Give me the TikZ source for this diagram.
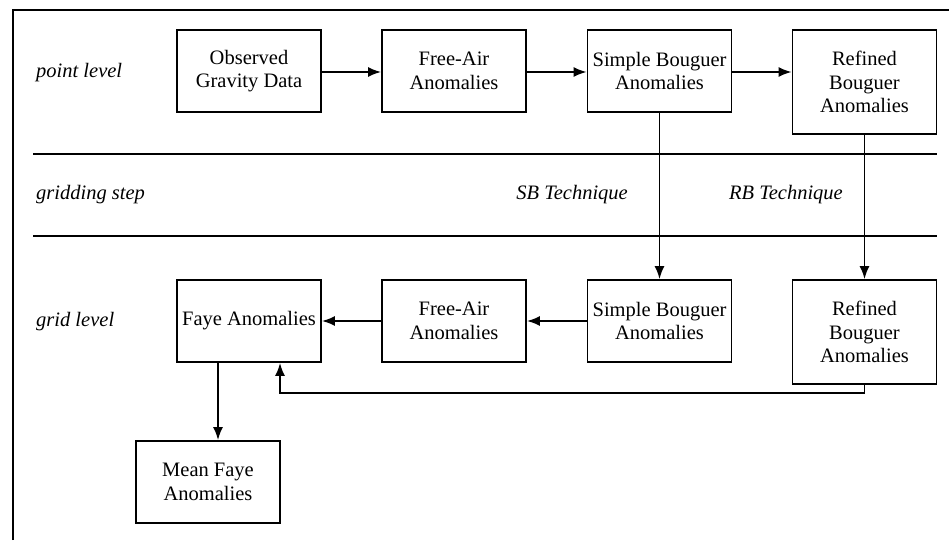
\documentclass[tikz,border=0pt]{standalone}
\usepackage{fontspec}
\setmainfont{Liberation Serif}
\usetikzlibrary{arrows.meta}
\tikzset{
  stagebox/.style={draw, line width=1.8pt, minimum width=144pt, minimum height=82pt,
    inner sep=0pt, align=center, font=\fontsize{20.5}{23.5}\selectfont},
  tallbox/.style={stagebox, minimum height=104pt},
  levellabel/.style={anchor=west, inner sep=0pt, font=\fontsize{20.5}{23.5}\selectfont\itshape},
  flow/.style={line width=1.8pt, -{Latex[length=13pt,width=10pt]}}
}
\begin{document}
\begin{tikzpicture}[x=1pt,y=-1pt]
            \useasboundingbox (0,0) rectangle (949,540);

            % Frame and level separators
            \draw[line width=2.2pt] (13,540) -- (13,10) -- (949,10);
            \draw[line width=2.2pt] (33,154) -- (937,154);
            \draw[line width=2.2pt] (33,236) -- (937,236);

            % Level labels
            \node[levellabel] (lpoint) at (36,73) {point level};
            \node[levellabel] (lgrid) at (36,195) {gridding step};
            \node[levellabel] (lgridlvl) at (36,322) {grid level};

            % Point level
            \node[stagebox] (obs) at (249,71) {Observed\\Gravity Data};
            \node[stagebox] (fa1) at (454,71) {Free-Air\\Anomalies};
            \node[stagebox] (sb1) at (659.5,71) {Simple Bouguer\\Anomalies};
            \node[tallbox] (rb1) at (864.5,82) {Refined\\Bouguer\\Anomalies};

            % Grid level
            \node[stagebox] (faye) at (249,321) {Faye Anomalies};
            \node[stagebox] (fa2) at (454,321) {Free-Air\\Anomalies};
            \node[stagebox] (sb2) at (659.5,321) {Simple Bouguer\\Anomalies};
            \node[tallbox] (rb2) at (864.5,332) {Refined\\Bouguer\\Anomalies};
            \node[stagebox] (mfaye) at (208,482) {Mean Faye\\Anomalies};

            % Gridding techniques
            \node[levellabel, anchor=east] (sbt) at (628,195) {SB Technique};
            \node[levellabel, anchor=east] (rbt) at (843,195) {RB Technique};

            % Connections
            \coordinate (toprow) at (0,72);
            \coordinate (loop) at (280,393);
            \coordinate (drop) at (218,0);
            \draw[flow] (obs.east |- toprow) -- (fa1.west |- toprow);
            \draw[flow] (fa1.east |- toprow) -- (sb1.west |- toprow);
            \draw[flow] (sb1.east |- toprow) -- (rb1.west |- toprow);
            \draw[flow] (sb1.south) -- (sb2.north);
            \draw[flow] (rb1.south) -- (rb2.north);
            \draw[flow] (sb2.west) -- (fa2.east);
            \draw[flow] (fa2.west) -- (faye.east);
            \draw[flow] (rb2.south) |- (loop) -- (faye.south -| loop);
            \draw[flow] (faye.south -| drop) -- (mfaye.north -| drop);
\end{tikzpicture}
\end{document}
